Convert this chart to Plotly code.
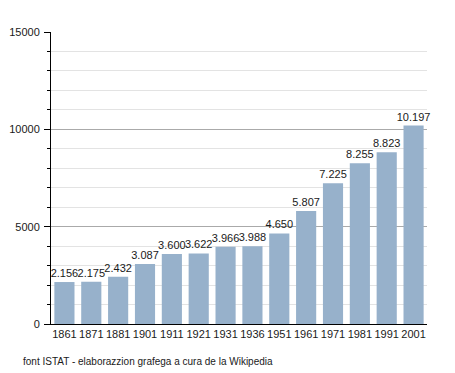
import plotly.graph_objects as go

years = ["1861", "1871", "1881", "1901", "1911", "1921", "1931", "1936", "1951", "1961", "1971", "1981", "1991", "2001"]
population = [2156, 2175, 2432, 3087, 3600, 3622, 3966, 3988, 4650, 5807, 7225, 8255, 8823, 10197]
labels = ["2.156", "2.175", "2.432", "3.087", "3.600", "3.622", "3.966", "3.988", "4.650", "5.807", "7.225", "8.255", "8.823", "10.197"]
y_ticks = [0, 5000, 10000, 15000]
y_ticktext = ["0", "5000", "10000", "15000"]

fig = go.Figure()
fig.add_trace(go.Bar(
    x=years, y=population, text=labels, textposition="outside",
    constraintext="none",
    textfont=dict(size=11, color="#1a1a1a"),
    marker=dict(color="#97b1cb", line=dict(width=0)),
    cliponaxis=False,
))
fig.update_layout(
    width=455, height=373,
    margin=dict(l=43, r=36, t=24, b=57, autoexpand=False),
    paper_bgcolor="white", plot_bgcolor="white",
    font=dict(family="Liberation Sans, Arial, sans-serif", size=11, color="#1a1a1a"),
    bargap=0.25,
    showlegend=False,
    annotations=[dict(text="font ISTAT - elaborazzion grafega a cura de la Wikipedia",
                      xref="paper", yref="paper", x=-0.08, y=-0.13, xanchor="left", yanchor="middle",
                      showarrow=False, font=dict(size=10, color="#1a1a1a"))],
)
fig.update_xaxes(type="category", showline=True, linecolor="black", linewidth=1,
                 ticks="", tickfont=dict(size=11), showgrid=False, automargin=False)
fig.update_yaxes(range=[0, 15000], tickvals=y_ticks, ticktext=y_ticktext,
                 showline=True, linecolor="black", linewidth=1,
                 ticks="outside", ticklen=6, tickcolor="black", automargin=False,
                 ticklabelstandoff=2,
                 showgrid=True, gridcolor="#aaaaaa", gridwidth=1, zeroline=False,
                 minor=dict(dtick=1000, showgrid=True, gridcolor="#e3e3e3",
                            ticks="outside", ticklen=3, tickcolor="black"))
fig.write_html("out.html")
